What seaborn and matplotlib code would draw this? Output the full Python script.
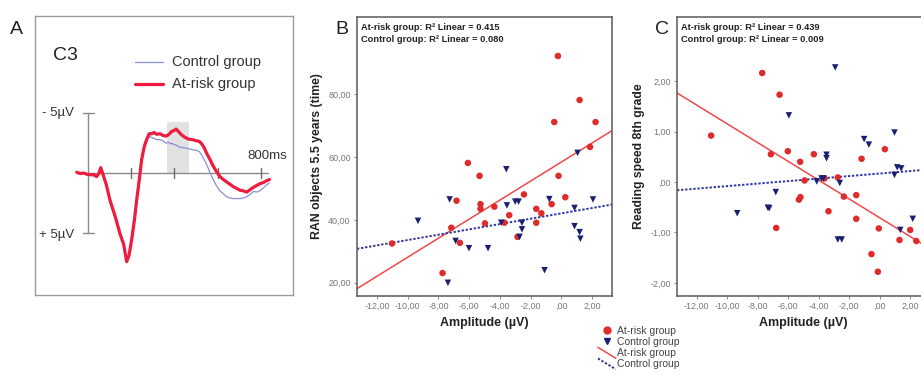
import numpy as np
import pandas as pd
import matplotlib
matplotlib.use("Agg")
import matplotlib.pyplot as plt
from matplotlib.lines import Line2D
from matplotlib.legend_handler import HandlerBase
from matplotlib.ticker import FuncFormatter, FixedLocator
import seaborn as sns

# ---------------- data ----------------
# Grand-average ERP at C3 (time in ms, amplitude in microvolts, negative up)
erp_time_ms = [-52, -35, -20, -6, 10, 25, 40, 50, 59, 71, 85, 102, 125, 148, 165, 179,
               190, 202, 215, 225, 237, 248, 260, 271, 283, 294, 306, 318, 333, 348,
               360, 371, 380, 387, 397, 407, 420, 433, 448, 464, 484, 503, 515, 526,
               538, 549, 565, 580, 595, 610, 626, 641, 657, 672, 688, 703, 718, 734,
               750, 765, 780, 795, 811, 826, 839]
erp_at_risk = [-0.06, 0.05, 0.0, 0.10, 0.15, 0.12, 0.30, 0.05, -0.45, 0.20, 1.0, 2.3, 3.6,
               5.1, 6.0, 7.45, 6.9, 5.6, 3.9, 2.3, 0.6, -1.1, -2.2, -2.8, -3.3, -3.3,
               -3.4, -3.25, -3.3, -3.15, -3.1, -3.2, -3.35, -3.5, -3.55, -3.7, -3.45,
               -3.2, -3.0, -2.85, -2.8, -2.7, -2.65, -2.45, -2.1, -1.65, -1.1, -0.55,
               -0.1, 0.3, 0.55, 0.75, 0.95, 1.15, 1.3, 1.45, 1.5, 1.6, 1.4, 1.2, 1.05,
               0.9, 0.8, 0.65, 0.55]
erp_control = [-0.05, 0.05, 0.05, 0.15, 0.2, 0.25, 0.35, 0.0, -0.35, 0.25, 1.2, 2.5, 3.8,
               5.0, 6.0, 7.2, 6.8, 5.3, 3.6, 2.0, 0.2, -1.3, -2.4, -2.9, -3.05, -3.0,
               -2.9, -2.8, -2.8, -2.7, -2.5, -2.6, -2.45, -2.5, -2.4, -2.35, -2.2,
               -2.15, -2.1, -2.05, -1.95, -1.9, -1.8, -1.5, -1.1, -0.7, 0.0, 0.6, 1.1,
               1.5, 1.75, 2.0, 2.1, 2.15, 2.15, 2.15, 2.1, 2.0, 1.8, 1.55, 1.6, 1.5,
               1.25, 1.0, 0.85]
window_ms = [365, 467]
window_uv = 4.3

# Panel B: amplitude vs RAN objects at 5.5 years
risk_amp_B = [-0.22, 1.19, -0.46, 2.23, 1.87, -6.08, -5.32, -0.18, -2.43, 0.26, -6.82,
              -5.26, -5.26, -4.36, -0.63, -1.63, -3.39, -1.30, -4.97, -3.71, -1.63,
              -7.16, -2.85, -6.60, -11.02, -7.73]
risk_ran = [92.1, 78.1, 71.1, 71.1, 63.2, 58.1, 54.0, 54.0, 48.1, 47.2, 46.1, 45.0,
            43.5, 44.2, 45.0, 43.5, 41.5, 42.1, 38.9, 39.1, 39.1, 37.5, 34.6, 32.7,
            32.5, 23.1]
ctrl_amp_B = [1.06, -3.58, -7.27, -0.78, 2.06, -3.00, -2.78, -3.54, 0.86, -9.33, -3.91,
              -2.56, -2.56, -2.72, 0.86, 1.19, 1.24, -6.88, -6.01, -4.77, -1.09, -7.38]
ctrl_ran = [61.3, 56.1, 46.5, 46.6, 46.5, 45.8, 45.8, 44.6, 43.8, 39.7, 39.1, 39.1,
            37.0, 34.6, 38.0, 36.1, 34.0, 33.3, 31.0, 31.0, 24.0, 20.0]

# Panel C: amplitude vs reading speed in 8th grade
risk_amp_C = [-7.71, -6.57, -11.06, -7.14, -6.03, -4.32, -5.22, -1.19, 0.34, -4.93,
              -3.62, -2.75, -5.30, -5.20, -2.35, -1.54, -3.36, -1.54, -6.79, -0.06,
              2.00, 1.30, 2.40, -0.54, -0.12]
risk_read = [2.16, 1.73, 0.92, 0.55, 0.61, 0.55, 0.40, 0.46, 0.65, 0.03, 0.07, 0.09,
             -0.35, -0.30, -0.29, -0.26, -0.58, -0.73, -0.91, -0.92, -0.95, -1.15,
             -1.17, -1.43, -1.78]
ctrl_amp_C = [-2.92, -5.96, -1.02, -0.71, 0.97, -3.49, -3.49, 1.15, 1.41, 0.97, -3.82,
              -3.69, -4.13, -2.62, -6.82, -9.35, -7.34, -7.25, -2.75, -2.49, 2.17, 1.35]
ctrl_read = [2.27, 1.32, 0.85, 0.74, 0.98, 0.54, 0.47, 0.29, 0.27, 0.14, 0.07, 0.07,
             0.01, -0.02, -0.20, -0.62, -0.51, -0.52, -1.14, -1.14, -0.73, -0.95]

groups = ["At-risk group", "Control group"]
r2_B = ["0.415", "0.080"]
r2_C = ["0.439", "0.009"]
amp_ticks = [-12, -10, -8, -6, -4, -2, 0, 2]
ran_ticks = [20, 40, 60, 80]
read_ticks = [-2, -1, 0, 1, 2]

# ---------------- style ----------------
sns.set_theme(style="white")
plt.rcParams["font.family"] = ["Liberation Sans", "DejaVu Sans"]

RED_ERP = "#ee1c3f"
BLUE_ERP = "#8c8fd6"
RED = "#e02b2b"
NAVY = "#1b1f72"
RED_FIT = "#f0474a"
BLUE_FIT = "#2f35a3"

fig = plt.figure(figsize=(9.21, 3.74), dpi=100)


def fig_rect(left_px, top_px, right_px, bottom_px):
    W, H = 921.0, 374.0
    return [left_px / W, 1 - bottom_px / H, (right_px - left_px) / W,
            (bottom_px - top_px) / H]


# ---------------- panel A: ERP ----------------
axA = fig.add_axes(fig_rect(35, 16, 293, 295))
axA.set_xlim(-245, 948)
axA.set_ylim(10.25, -13.19)
axA.set_xticks([])
axA.set_yticks([])
for sp in axA.spines.values():
    sp.set_color("#9a9a9a")
    sp.set_linewidth(1.0)

axA.axvspan(window_ms[0], window_ms[1], ymin=(10.25 - 0) / 23.44,
            ymax=(10.25 + window_uv) / 23.44, color="#e2e2e2", lw=0, zorder=0)
# axes of the ERP
axA.plot([0, 0], [-5, 5], color="#8a8a8a", lw=1.0, zorder=1)
axA.plot([-22, 28], [-5, -5], color="#8a8a8a", lw=1.0, zorder=1)
axA.plot([-22, 28], [5, 5], color="#8a8a8a", lw=1.0, zorder=1)
axA.plot([0, 832], [0, 0], color="#8a8a8a", lw=1.0, zorder=1)
for t in [200, 400, 600, 800]:
    axA.plot([t, t], [-0.45, 0.45], color="#6a6a6a", lw=1.0, zorder=1)

erp_df = pd.DataFrame({
    "time": erp_time_ms * 2,
    "uv": erp_control + erp_at_risk,
    "group": ["Control group"] * len(erp_time_ms) + ["At-risk group"] * len(erp_time_ms),
})
sns.lineplot(data=erp_df[erp_df.group == "Control group"], x="time", y="uv",
             color=BLUE_ERP, lw=0.9, ax=axA, sort=False, estimator=None, zorder=2)
sns.lineplot(data=erp_df[erp_df.group == "At-risk group"], x="time", y="uv",
             color=RED_ERP, lw=2.3, ax=axA, sort=False, estimator=None, zorder=3)
axA.set_xlabel("")
axA.set_ylabel("")

axA.text(-65, -5, "- 5µV", ha="right", va="center", fontsize=9.5, color="#333333")
axA.text(-65, 5.2, "+ 5µV", ha="right", va="center", fontsize=9.5, color="#333333")
axA.text(830, -1.4, "800ms", ha="center", va="center", fontsize=9.5, color="#333333")
axA.text(-160, -9.9, "C3", ha="left", va="center", fontsize=14, color="#222222")
# legend of panel A
axA.plot([217, 347], [-9.33, -9.33], color=BLUE_ERP, lw=0.9)
axA.plot([217, 347], [-7.48, -7.48], color=RED_ERP, lw=2.3)
axA.text(388, -9.33, "Control group", ha="left", va="center", fontsize=10.5,
         color="#333333")
axA.text(388, -7.48, "At-risk group", ha="left", va="center", fontsize=10.5,
         color="#333333")
fig.text(10 / 921, 1 - 30 / 374, "A", fontsize=14, ha="left", va="center",
         color="#222222")


# ---------------- panels B and C: scatter with linear fits ----------------
def fmt(v, _pos=None):
    s = f"{v:.2f}".replace(".", ",")
    if abs(v) < 1e-9:
        s = ",00"
    return s


def scatter_panel(ax, risk_x, risk_y, ctrl_x, ctrl_y, xlim, ylim, yticks,
                  ylabel, r2, label):
    df = pd.DataFrame({
        "amp": list(risk_x) + list(ctrl_x),
        "val": list(risk_y) + list(ctrl_y),
        "group": [groups[0]] * len(risk_x) + [groups[1]] * len(ctrl_x),
    })
    ax.set_xlim(*xlim)
    ax.set_ylim(*ylim)
    sns.regplot(data=df[df.group == groups[0]], x="amp", y="val", scatter=False,
                ci=None, truncate=False, ax=ax,
                line_kws=dict(color=RED_FIT, lw=1.1, zorder=2))
    sns.regplot(data=df[df.group == groups[1]], x="amp", y="val", scatter=False,
                ci=None, truncate=False, ax=ax,
                line_kws=dict(color=BLUE_FIT, lw=1.4, ls=(0, (1.2, 0.9)), zorder=2))
    sns.scatterplot(data=df, x="amp", y="val", hue="group", style="group",
                    markers={groups[0]: "o", groups[1]: "v"},
                    palette={groups[0]: RED, groups[1]: NAVY},
                    s=22, linewidth=0, ax=ax, legend=False, zorder=3)
    ax.set_xlim(*xlim)
    ax.set_ylim(*ylim)
    ax.xaxis.set_major_locator(FixedLocator(amp_ticks))
    ax.yaxis.set_major_locator(FixedLocator(yticks))
    ax.xaxis.set_major_formatter(FuncFormatter(fmt))
    ax.yaxis.set_major_formatter(FuncFormatter(fmt))
    ax.tick_params(axis="both", which="major", bottom=True, left=True, length=2.5,
                   width=0.6, color="#777777", labelsize=6.5, labelcolor="#777777",
                   pad=2)
    for sp in ax.spines.values():
        sp.set_color("#5a5a5a")
        sp.set_linewidth(1.1)
    ax.set_xlabel("Amplitude (µV)", fontsize=9, fontweight="bold", color="#222222",
                  labelpad=4)
    ax.set_ylabel(ylabel, fontsize=8.8, fontweight="bold", color="#222222",
                  labelpad=4)
    ax.text(0.015, 0.977, f"At-risk group: R² Linear = {r2[0]}\n"
            f"Control group: R² Linear = {r2[1]}", transform=ax.transAxes,
            ha="left", va="top", fontsize=6.7, fontweight="bold", color="#222222",
            linespacing=1.3)
    ax.text(-0.06, 0.955, label, transform=ax.transAxes, ha="center", va="center",
            fontsize=14, color="#222222")


axB = fig.add_axes(fig_rect(357, 17, 612, 296))
scatter_panel(axB, risk_amp_B, risk_ran, ctrl_amp_B, ctrl_ran, (-13.3, 3.3),
              (15.8, 104.5), ran_ticks, "RAN objects 5.5 years (time)", r2_B, "B")

axC = fig.add_axes(fig_rect(677, 17, 930, 296))
scatter_panel(axC, risk_amp_C, risk_read, ctrl_amp_C, ctrl_read, (-13.3, 3.3),
              (-2.26, 3.27), read_ticks, "Reading speed 8th grade", r2_C, "C")


# shared legend under the scatter panels; fit lines are drawn as slanted strokes
class SlantedLineHandler(HandlerBase):
    def create_artists(self, legend, orig_handle, xdescent, ydescent, width, height,
                       fontsize, trans):
        line = Line2D([-xdescent, -xdescent + width],
                      [-ydescent + height + 1.0, -ydescent - 1.5])
        self.update_prop(line, orig_handle, legend)
        line.set_transform(trans)
        return [line]


red_fit_handle = Line2D([], [], color=RED_FIT, lw=1.1)
blue_fit_handle = Line2D([], [], color=BLUE_FIT, lw=1.4, ls=(0, (1.2, 0.9)))
handles = [
    Line2D([], [], marker="o", color=RED, ls="none", markersize=5),
    Line2D([], [], marker="v", color=NAVY, ls="none", markersize=5),
    red_fit_handle,
    blue_fit_handle,
]
leg = fig.legend(handles, groups + groups, loc="upper left",
                 bbox_to_anchor=(598 / 921, 1 - 326 / 374), frameon=False,
                 fontsize=7.5, handlelength=1.7, handletextpad=0.1, labelspacing=0.1,
                 borderpad=0, borderaxespad=0,
                 handler_map={red_fit_handle: SlantedLineHandler(),
                              blue_fit_handle: SlantedLineHandler()})
for t in leg.get_texts():
    t.set_color("#444444")

fig.savefig("out.png", dpi=100, facecolor="white")
